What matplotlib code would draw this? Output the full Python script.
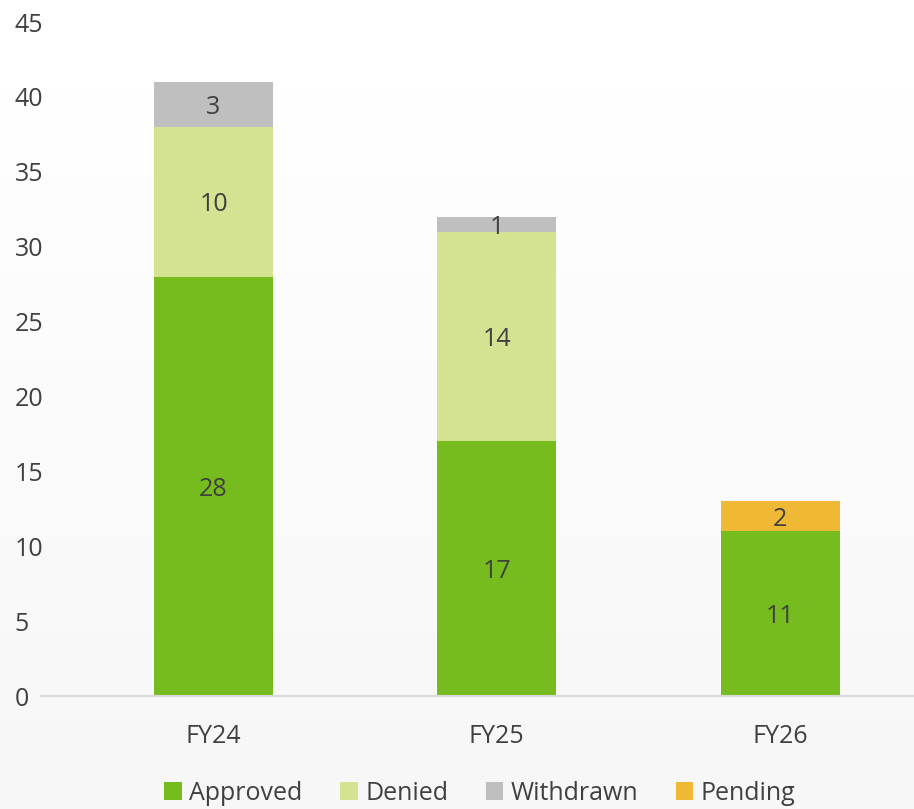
import numpy as np
import matplotlib
matplotlib.use("Agg")
import matplotlib.pyplot as plt
from matplotlib.patches import Patch

plt.rcParams["font.family"] = ["Open Sans", "DejaVu Sans"]

# data
years = ["FY24", "FY25", "FY26"]
approved = [28, 17, 11]
denied = [10, 14, 0]
withdrawn = [3, 1, 0]
pending = [0, 0, 2]

series = [("Approved", approved, "#77bc1f"),
          ("Denied", denied, "#d4e391"),
          ("Withdrawn", withdrawn, "#bfbfbf"),
          ("Pending", pending, "#f0b935")]

txt = "#404040"
fs = 18
W, H = 914, 809
fig = plt.figure(figsize=(W / 100, H / 100), dpi=100)

# background gradient
bg = fig.add_axes([0, 0, 1, 1], zorder=0)
grad = np.linspace(0.965, 1.0, 256).reshape(-1, 1)
bg.imshow(grad, aspect="auto", cmap="gray", vmin=0, vmax=1, origin="lower",
          extent=[0, 1, 0, 1])
bg.axis("off")

ax = fig.add_axes([41 / W, 1 - 696 / H, (914 - 41) / W, (696 - 22) / H], zorder=1)
ax.patch.set_alpha(0)

x = np.arange(len(years))
bottom = np.zeros(len(years))
for name, vals, col in series:
    vals = np.array(vals, dtype=float)
    ax.bar(x, vals, 0.42, bottom=bottom, color=col, edgecolor="none", zorder=2)
    for xi, b, v in zip(x, bottom, vals):
        if v > 0:
            ax.text(xi, b + v / 2, f"{int(v)}", ha="center", va="center_baseline",
                    fontsize=fs, color=txt, zorder=3)
    bottom += vals

ax.set_xlim(-0.609, 2.473)
ax.set_ylim(0, 45)
ax.set_yticks(range(0, 46, 5))
ax.set_xticks(x)
ax.set_xticklabels(years)
ax.tick_params(axis="y", length=0, labelsize=fs, labelcolor=txt, pad=19)
for lab in ax.get_yticklabels():
    lab.set_horizontalalignment("left")
ax.tick_params(axis="x", length=0, labelsize=fs, labelcolor=txt, pad=20)
for s in ["top", "right", "left"]:
    ax.spines[s].set_visible(False)
ax.spines["bottom"].set_color("#d9d9d9")
ax.spines["bottom"].set_linewidth(1.5)

handles = [Patch(facecolor=c, label=n) for n, _, c in series]
fig.legend(handles=handles, loc="center", bbox_to_anchor=(480 / W, 1 - 793 / H),
           ncol=4, frameon=False, fontsize=fs, labelcolor=txt,
           handlelength=0.7, handleheight=0.7, handletextpad=0.3,
           columnspacing=1.5)

fig.savefig("out.png", dpi=100)
